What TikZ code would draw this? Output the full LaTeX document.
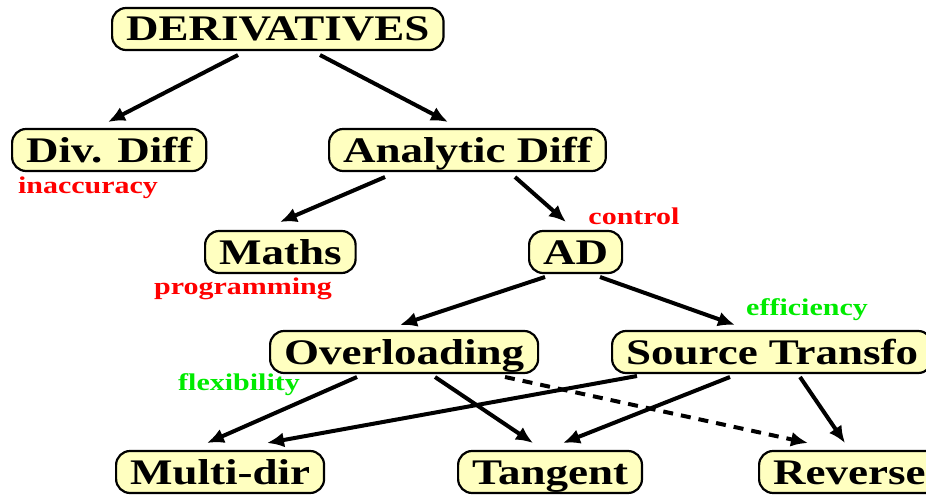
\documentclass[tikz,border=0pt]{standalone}
\usepackage{fontspec}
\setmainfont{Liberation Serif}
\newfontfamily\widefont{Liberation Serif}[FakeStretch=1.25]
\usetikzlibrary{arrows.meta,calc}
\definecolor{boxfill}{RGB}{255,255,192}
\definecolor{notered}{RGB}{255,0,0}
\definecolor{notegreen}{RGB}{0,235,0}
\tikzset{
  box/.style={draw=black,line width=2.2pt,fill=boxfill,rounded corners=14pt,
    minimum height=42pt,inner xsep=14pt,inner ysep=0pt,anchor=west,
    text height=32pt,text depth=8pt,
    font=\widefont\fontsize{36}{40}\selectfont\bfseries},
  note/.style={font=\widefont\fontsize{24}{28}\selectfont\bfseries,inner sep=0pt},
  arr/.style={line width=4pt,-{Latex[length=17pt,width=15pt]}},
}
\begin{document}
\begin{tikzpicture}[x=1pt,y=-1pt]
\useasboundingbox[fill=white] (0,0) rectangle (926,495);
% boxes
\node[box] (deriv) at (111,29) {DERIVATIVES};
\node[box] (divd) at (11,150) {Div. Diff};
\node[box] (anal) at (328,150) {Analytic Diff};
\node[box] (maths) at (204,252) {Maths};
\node[box] (ad) at (528,252) {AD};
\node[box] (over) at (269,352) {Overloading};
\node[box] (src) at (611,352) {Source Transfo};
\node[box] (multi) at (115,472) {Multi-dir};
\node[box] (tang) at (457,472) {Tangent};
\node[box] (rev) at (758,472) {Reverse};
% remarks
\node[note,text=notered] (inacc) at (88,188) {inaccuracy};
\node[note,text=notered] (ctrl) at (634,216) {control};
\node[note,text=notered] (prog) at (243,289) {programming};
\node[note,text=notegreen] (effic) at (807,310) {efficiency};
\node[note,text=notegreen] (flex) at (239,385) {flexibility};
% arrows
\draw[arr] ($(deriv.west)+(127,26)$) -- ($(divd.west)+(97,-28)$);
\draw[arr] ($(deriv.west)+(209,26)$) -- ($(anal.west)+(120,-28)$);
\draw[arr] ($(anal.west)+(57,27)$) -- ($(maths.west)+(76,-30)$);
\draw[arr] ($(anal.west)+(187,27)$) -- ($(ad.west)+(38,-30)$);
\draw[arr] ($(ad.west)+(17,25)$) -- ($(over.west)+(131,-27)$);
\draw[arr] ($(ad.west)+(72,25)$) -- ($(src.west)+(124,-27)$);
\draw[arr] ($(over.west)+(88,25)$) -- ($(multi.west)+(92,-29)$);
\draw[arr] ($(over.west)+(166,25)$) -- ($(tang.west)+(76,-29)$);
\draw[arr,dash pattern=on 10pt off 8pt] ($(over.west)+(236,25)$) -- ($(rev.west)+(50,-29)$);
\draw[arr] ($(src.west)+(26,24)$) -- ($(multi.west)+(152,-29)$);
\draw[arr] ($(src.west)+(119,25)$) -- ($(tang.west)+(106,-29)$);
\draw[arr] ($(src.west)+(189,25)$) -- ($(rev.west)+(87,-29)$);
\end{tikzpicture}
\end{document}
